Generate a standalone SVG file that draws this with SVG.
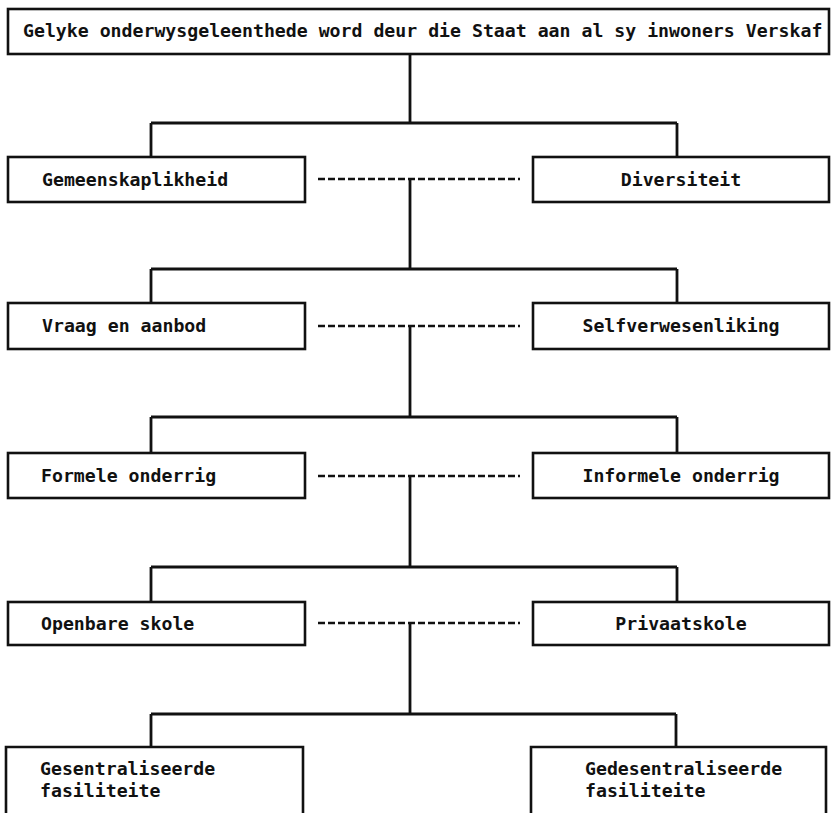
<svg xmlns="http://www.w3.org/2000/svg" width="831" height="813" viewBox="0 0 831 813">
<style>
.box{fill:#fff;stroke:#111;stroke-width:2.6}
.open{fill:none;stroke:#111;stroke-width:2.6}
.ln{fill:none;stroke:#111;stroke-width:2.8}
.dash{fill:none;stroke:#111;stroke-width:2.7;stroke-dasharray:7 3}
text{font-family:"DejaVu Sans Mono","Liberation Mono",monospace;font-weight:bold;font-size:18.2px;fill:#111}
.c{text-anchor:middle}
</style>
<rect width="831" height="813" fill="#fff"/>
<g id="connectors">
<path class="ln" d="M410 54V123M151 123H677M151 123V157M677 123V157"/>
<path class="dash" d="M318 179H520"/>
<path class="ln" d="M410 179V269M151 269H677M151 269V303M677 269V303"/>
<path class="dash" d="M318 326H520"/>
<path class="ln" d="M410 326V417M151 417H677M151 417V453M677 417V453"/>
<path class="dash" d="M318 476H520"/>
<path class="ln" d="M410 476V567M151 567H677M151 567V602M677 567V602"/>
<path class="dash" d="M318 623H520"/>
<path class="ln" d="M410 623V714M151 714H676M151 714V747M676 714V747"/>
</g>
<g id="top"><rect class="box" x="8" y="9" width="821" height="45"/><text x="23" y="37">Gelyke onderwysgeleenthede word deur die Staat aan al sy inwoners Verskaf</text></g>
<g id="gemeenskaplikheid"><rect class="box" x="8" y="157" width="297" height="45"/><text x="42" y="186">Gemeenskaplikheid</text></g>
<g id="diversiteit"><rect class="box" x="533" y="157" width="296" height="45"/><text class="c" x="681" y="186">Diversiteit</text></g>
<g id="vraag"><rect class="box" x="8" y="303" width="297" height="46"/><text x="42" y="332">Vraag en aanbod</text></g>
<g id="selfverwesenliking"><rect class="box" x="533" y="303" width="296" height="46"/><text class="c" x="681" y="332">Selfverwesenliking</text></g>
<g id="formele"><rect class="box" x="8" y="453" width="297" height="45"/><text x="41" y="482">Formele onderrig</text></g>
<g id="informele"><rect class="box" x="533" y="453" width="296" height="45"/><text class="c" x="681" y="482">Informele onderrig</text></g>
<g id="openbare"><rect class="box" x="8" y="602" width="297" height="43"/><text x="41" y="630">Openbare skole</text></g>
<g id="privaat"><rect class="box" x="533" y="602" width="296" height="43"/><text class="c" x="681" y="630">Privaatskole</text></g>
<g id="gesentraliseerde"><path class="open" d="M6 815V747H303V815"/><text x="40" y="775">Gesentraliseerde</text><text x="40" y="797">fasiliteite</text></g>
<g id="gedesentraliseerde"><path class="open" d="M531 815V747H826V815"/><text x="585" y="775">Gedesentraliseerde</text><text x="585" y="797">fasiliteite</text></g>
</svg>
